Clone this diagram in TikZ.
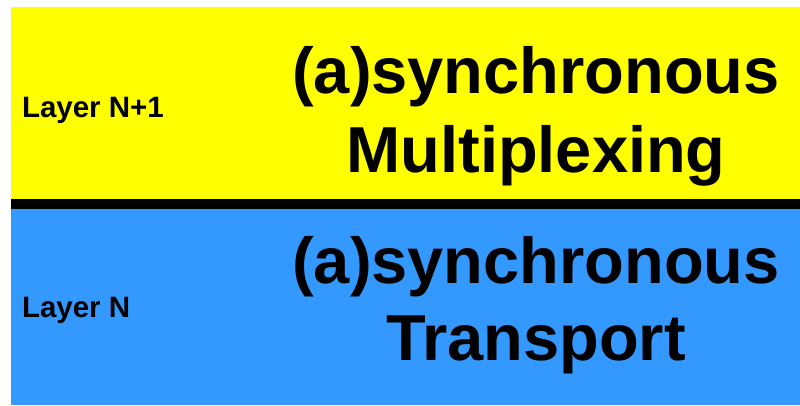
\documentclass[tikz,border=0pt]{standalone}
\usepackage{fontspec}
\setmainfont{Liberation Sans}
\usepackage{xcolor}
\usetikzlibrary{positioning}
\definecolor{layeryellow}{HTML}{FFFF00}
\definecolor{layerblue}{HTML}{3399FF}

\begin{document}
\begin{tikzpicture}[x=1pt, y=-1pt, every node/.style={inner sep=0pt, outer sep=0pt}]
% Define styles for layer bands and labels
\tikzstyle{band} = [draw=none]
\tikzstyle{divider} = [draw=black, line width=10pt]
\tikzstyle{layername} = [anchor=base west, font=\fontsize{29.5}{34}\selectfont\bfseries]
\tikzstyle{title} = [anchor=base, font=\fontsize{65}{78}\selectfont\bfseries]

\useasboundingbox (0,0) rectangle (800,405);

% Layer bands
\fill[band, layeryellow] (11,7) rectangle (800,204);
\fill[band, layerblue] (11,204) rectangle (800,405);
\coordinate (divleft) at (11,204);
\coordinate (divright) at (800,204);
\draw[divider] (divleft) -- (divright);

% Layer names
\node[layername] (upname) at (22,117) {Layer N+1};
\node[layername] (lowname) at (22,317) {Layer N};

% Layer titles
\node[title] (uptitle) at (536,93) {(a)synchronous};
\node[title] (uptitleb) at (536,172) {Multiplexing};
\node[title] (lowtitle) at (536,283) {(a)synchronous};
\node[title] (lowtitleb) at (536,360) {Transport};
\end{tikzpicture}
\end{document}
